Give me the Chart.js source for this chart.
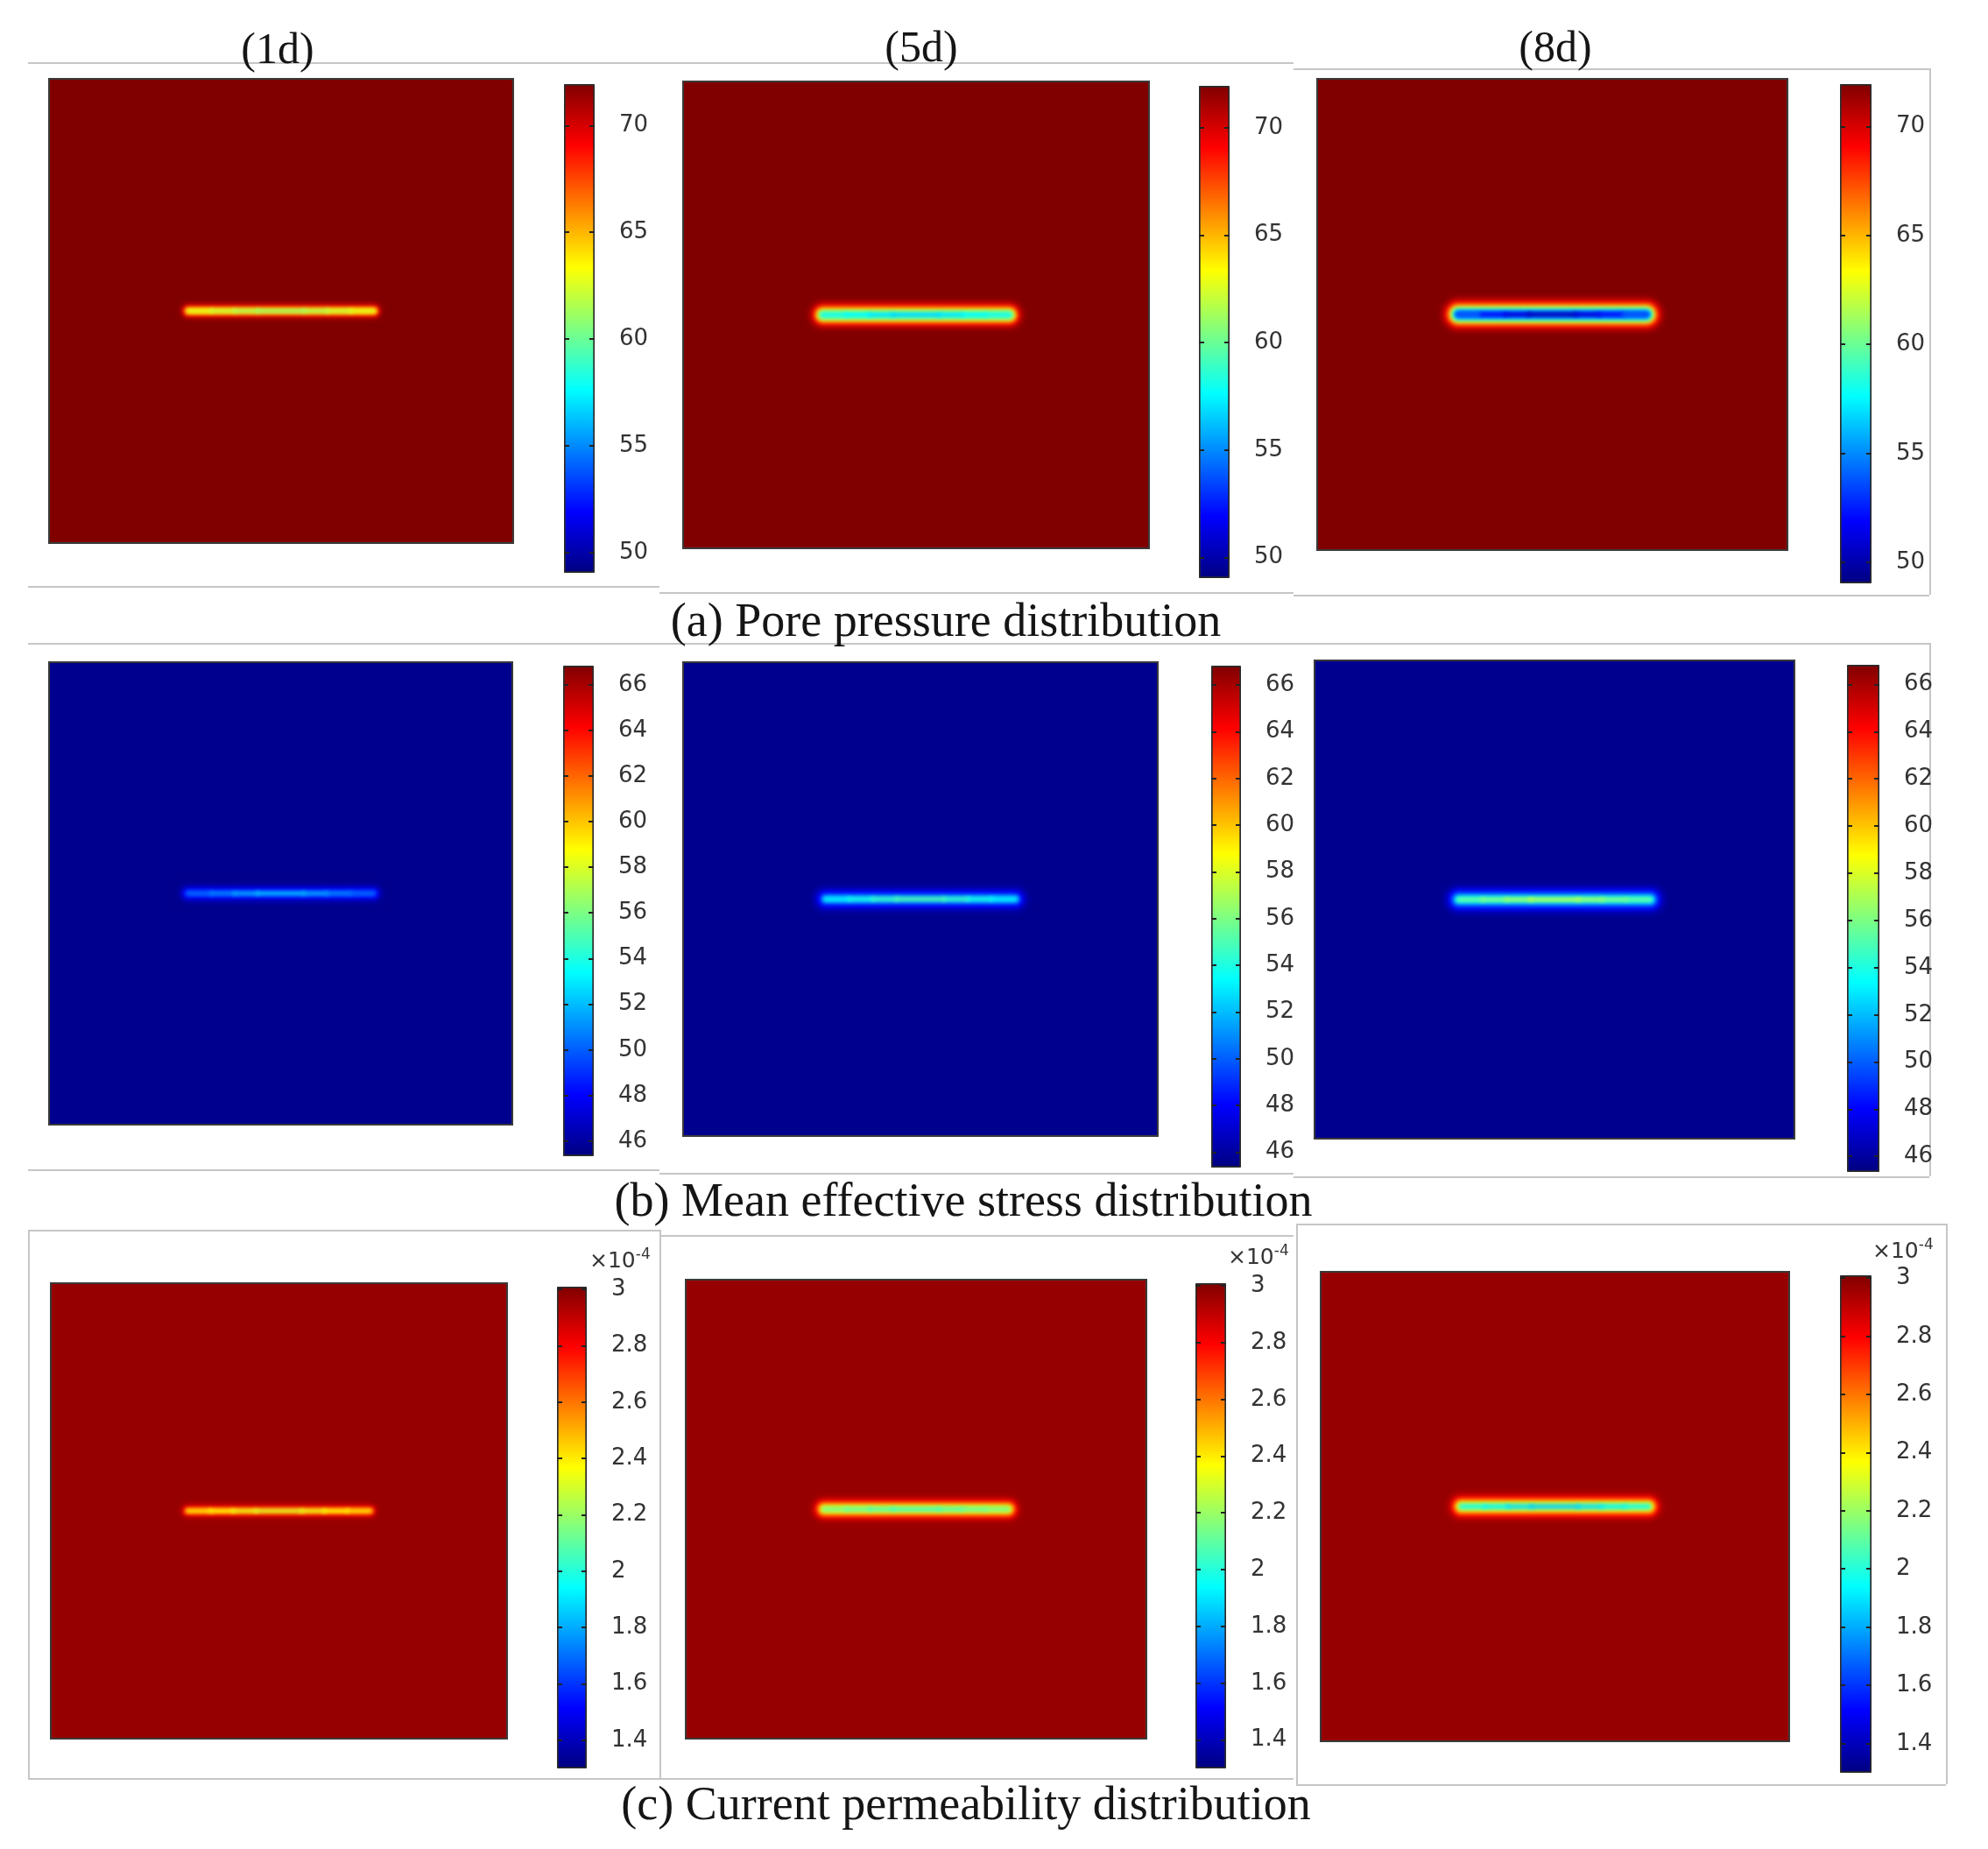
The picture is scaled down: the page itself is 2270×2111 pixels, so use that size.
<!DOCTYPE html>
<html>
<head>
<meta charset="utf-8">
<script src="https://cdn.jsdelivr.net/npm/chart.js@4.4.1/dist/chart.umd.min.js"></script>
<style>
  html, body { margin: 0; padding: 0; background: #fff; }
  #page { position: relative; width: 2270px; height: 2111px; overflow: hidden; background: #fff; }
  #page canvas { position: absolute; }
  .label { position: absolute; font-family: 'Liberation Serif', serif; color: #151515; white-space: nowrap; transform: translate(-50%, -50%); }
  .day { font-size: 50px; }
  .caption { font-size: 54px; }
  .exp { position: absolute; font-family: 'DejaVu Sans', sans-serif; font-size: 25px; color: #353535; white-space: nowrap; transform: translateY(-50%); }
  .exp sup { font-size: 17px; }
  .rule { position: absolute; background: #c6c6c6; }
</style>
</head>
<body>
<div id="page"></div>
<script>
// ---- data ----
const dayLabels = ['(1d)', '(5d)', '(8d)'];
const captions = [
  '(a) Pore pressure distribution',
  '(b) Mean effective stress distribution',
  '(c) Current permeability distribution',
];

// colour bar ranges and tick labels
const pressureRange = [49.05, 71.95];
const pressureTicks = [50, 55, 60, 65, 70];
const stressRange = [45.35, 66.84];
const stressTicks = [46, 48, 50, 52, 54, 56, 58, 60, 62, 64, 66];
const permRange = [1.30, 3.01];
const permTicks = [1.4, 1.6, 1.8, 2, 2.2, 2.4, 2.6, 2.8, 3];

// model domain and fracture (m)
const domain = [-50, 50];
const fracX = [-20, -15, -10, -5, 0, 5, 10, 15, 20];
const haloOffsets = [0.5, 1.0, 1.5, 2.0, 2.6, 3.3, 4.0];

// far field value for 1d / 5d / 8d
const pressureBg = [71.95, 71.95, 71.95];
const stressBg = [45.65, 45.65, 45.65];
const permBg = [2.97, 2.97, 2.97];

// value along the fracture (at fracX)
const pressureCore1d = [63, 62.5, 61.8, 61.2, 61, 61.2, 61.8, 62.5, 63];
const pressureCore5d = [58.5, 58, 57.3, 56.8, 56.5, 56.8, 57.3, 58, 58.5];
const pressureCore8d = [55, 53, 51.5, 50.5, 49.8, 50.5, 51.5, 53, 55];
const stressCore1d = [50, 50.5, 51.3, 52, 52.3, 52, 51.3, 50.5, 50];
const stressCore5d = [53, 53.5, 54.3, 55, 55.3, 55, 54.3, 53.5, 53];
const stressCore8d = [55.5, 56, 56.8, 57.5, 57.8, 57.5, 56.8, 56, 55.5];
const permCore1d = [2.42, 2.39, 2.35, 2.32, 2.3, 2.32, 2.35, 2.39, 2.42];
const permCore5d = [2.15, 2.12, 2.08, 2.05, 2.03, 2.05, 2.08, 2.12, 2.15];
const permCore8d = [2.0, 1.95, 1.9, 1.86, 1.84, 1.86, 1.9, 1.95, 2.0];

// value vs distance from the fracture (at haloOffsets)
const pressureHalo1d = [64.5, 68.5, 70.8, 71.7, 71.95, 71.95, 71.95];
const pressureHalo5d = [59, 62, 65.5, 68.5, 70.5, 71.5, 71.9];
const pressureHalo8d = [53.5, 57, 61.5, 65.5, 68.5, 70.5, 71.6];
const stressHalo1d = [49, 47.8, 46.6, 46, 45.7, 45.65, 45.65];
const stressHalo5d = [51.5, 49.5, 48, 47, 46.2, 45.8, 45.65];
const stressHalo8d = [53.5, 51, 49.2, 47.8, 46.7, 46, 45.7];
const permHalo1d = [2.62, 2.82, 2.93, 2.96, 2.97, 2.97, 2.97];
const permHalo5d = [2.28, 2.48, 2.68, 2.83, 2.92, 2.96, 2.97];
const permHalo8d = [2.18, 2.42, 2.62, 2.78, 2.9, 2.95, 2.97];

// ---- layout (px) ----
const mapBoxes = [
  [56, 90, 530, 530], [780, 93, 532, 533], [1504, 90, 537, 538],
  [56, 756, 529, 528], [780, 756, 542, 541], [1501, 754, 548, 546],
  [58, 1465, 521, 520], [783, 1461, 526, 524], [1508, 1452, 535, 536],
];
const barBoxes = [
  [644, 96, 35, 558], [1369, 98, 35, 562], [2101, 96, 36, 570],
  [643, 760, 35, 560], [1383, 760, 34, 573], [2109, 759, 37, 579],
  [636, 1469, 34, 550], [1365, 1465, 35, 554], [2101, 1456, 36, 568],
];
const dayPos = [[317, 55], [1052, 53], [1776, 53]];
const captionPos = [[1080, 708], [1100, 1370], [1103, 2059]];
const expPos = [[673, 1437], [1402, 1433], [2138, 1426]];
const rules = [
  [32, 71, 1477, 71], [1477, 78, 2203, 78], [32, 669, 753, 669], [753, 676, 1477, 676],
  [1477, 679, 2203, 679], [2203, 78, 2203, 679],
  [32, 734, 2203, 734], [32, 1335, 753, 1335], [753, 1339, 1477, 1339],
  [1477, 1343, 2203, 1343], [2203, 734, 2203, 1343],
  [32, 1404, 753, 1404], [32, 1404, 32, 2030], [32, 2030, 1477, 2030], [753, 1404, 753, 2030],
  [753, 1410, 1477, 1410], [1480, 1397, 2222, 1397], [1480, 1397, 1480, 2037],
  [1480, 2037, 2222, 2037], [2222, 1397, 2222, 2037],
];

const page = document.getElementById('page');
Chart.defaults.font.family = 'DejaVu Sans';

// ---- jet colour map ----
function jetT(t) {
  const c = v => Math.round(255 * Math.min(1, Math.max(0, v)));
  const r = c(1.5 - Math.abs(4 * t - 3));
  const g = c(1.5 - Math.abs(4 * t - 2));
  const b = c(1.5 - Math.abs(4 * t - 1));
  return `rgb(${r},${g},${b})`;
}
function jet(v, range) {
  return jetT((v - range[0]) / (range[1] - range[0]));
}

function makeCanvas(left, top, w, h) {
  const c = document.createElement('canvas');
  c.width = w;
  c.height = h;
  c.style.left = left + 'px';
  c.style.top = top + 'px';
  page.appendChild(c);
  return c;
}

// field background, soft glow and outline for a map
const fieldPlugin = {
  id: 'field',
  beforeDatasetsDraw(chart, args, opts) {
    const { ctx, chartArea: a } = chart;
    ctx.save();
    ctx.fillStyle = opts.color;
    ctx.fillRect(a.left, a.top, a.width, a.height);
    ctx.filter = 'blur(2px)';
  },
  afterDatasetsDraw(chart) {
    const { ctx, chartArea: a } = chart;
    ctx.restore();
    ctx.strokeStyle = '#3a3a3a';
    ctx.lineWidth = 2;
    ctx.strokeRect(a.left, a.top, a.width, a.height);
  },
};

// small tick marks on both edges of a colour bar
const barTicksPlugin = {
  id: 'barTicks',
  afterDatasetsDraw(chart) {
    const { ctx, chartArea: a, scales: { y } } = chart;
    ctx.save();
    ctx.strokeStyle = '#222';
    ctx.lineWidth = 2;
    y.ticks.forEach(t => {
      const py = Math.round(y.getPixelForValue(t.value));
      ctx.beginPath();
      ctx.moveTo(a.left, py);
      ctx.lineTo(a.left + 6, py);
      ctx.moveTo(a.right - 6, py);
      ctx.lineTo(a.right, py);
      ctx.stroke();
    });
    ctx.restore();
  },
};

function meters(chart, d) {
  const y = chart.scales.y;
  return Math.abs(y.getPixelForValue(d) - y.getPixelForValue(0));
}

function createMap(box, range, bg, core, halo) {
  const [l, t, w, h] = box;
  const canvas = makeCanvas(l - 2, t - 2, w + 4, h + 4);
  const ends = [{ x: fracX[0], y: 0 }, { x: fracX[fracX.length - 1], y: 0 }];
  const layers = halo.map((v, i) => ({
    data: ends,
    borderColor: jet(v, range),
    borderWidth: ctx => 2 * meters(ctx.chart, haloOffsets[i]) + 2,
  }));
  const crack = {
    data: fracX.map(x => ({ x, y: 0 })),
    borderWidth: 4.5,
    borderColor: jet(core[4], range),
    segment: {
      borderColor: s => jet((core[s.p0DataIndex] + core[s.p1DataIndex]) / 2, range),
    },
  };
  return new Chart(canvas, {
    type: 'line',
    data: { datasets: [crack, ...layers] },
    options: {
      responsive: false,
      animation: false,
      layout: { padding: 2 },
      elements: {
        point: { radius: 0 },
        line: { borderCapStyle: 'round', tension: 0 },
      },
      scales: {
        x: { type: 'linear', min: domain[0], max: domain[1], display: false },
        y: { type: 'linear', min: domain[0], max: domain[1], display: false },
      },
      plugins: {
        legend: { display: false },
        tooltip: { enabled: false },
        field: { color: jet(bg, range) },
      },
    },
    plugins: [fieldPlugin],
  });
}

function jetGradient(chart, range) {
  if (!chart.chartArea) return '#000';
  const y = chart.scales.y;
  const g = chart.ctx.createLinearGradient(0, y.getPixelForValue(range[0]), 0, y.getPixelForValue(range[1]));
  [0, 0.125, 0.375, 0.625, 0.875, 1].forEach(t => g.addColorStop(t, jetT(t)));
  return g;
}

function createColorBar(box, range, ticks) {
  const [l, t, w, h] = box;
  const canvas = makeCanvas(l - 2, t - 20, w + 92, h + 40);
  return new Chart(canvas, {
    type: 'bar',
    data: {
      labels: [''],
      datasets: [{
        data: [range],
        backgroundColor: ctx => jetGradient(ctx.chart, range),
        borderColor: '#2b2b2b',
        borderWidth: 2,
        borderSkipped: false,
        borderRadius: 2,
        barPercentage: 1,
        categoryPercentage: 1,
      }],
    },
    options: {
      responsive: false,
      animation: false,
      layout: { padding: { left: 2, right: 0, top: 20, bottom: 20 } },
      scales: {
        x: { display: false },
        y: {
          position: 'right',
          min: range[0],
          max: range[1],
          grid: { display: false },
          border: { display: false },
          afterBuildTicks: s => { s.ticks = ticks.map(v => ({ value: v })); },
          afterFit: s => {
            s.width = 90;
            s.paddingTop = 0;
            s.paddingBottom = 0;
          },
          ticks: {
            padding: 20,
            color: '#333',
            font: { family: 'DejaVu Sans', size: 26 },
            callback: v => String(v),
          },
        },
      },
      plugins: { legend: { display: false }, tooltip: { enabled: false } },
    },
    plugins: [barTicksPlugin],
  });
}

// ---- build ----
const rows = [
  { range: pressureRange, ticks: pressureTicks, bg: pressureBg,
    core: [pressureCore1d, pressureCore5d, pressureCore8d], halo: [pressureHalo1d, pressureHalo5d, pressureHalo8d] },
  { range: stressRange, ticks: stressTicks, bg: stressBg,
    core: [stressCore1d, stressCore5d, stressCore8d], halo: [stressHalo1d, stressHalo5d, stressHalo8d] },
  { range: permRange, ticks: permTicks, bg: permBg,
    core: [permCore1d, permCore5d, permCore8d], halo: [permHalo1d, permHalo5d, permHalo8d] },
];

rules.forEach(([x1, y1, x2, y2]) => {
  const d = document.createElement('div');
  d.className = 'rule';
  d.style.left = x1 + 'px';
  d.style.top = y1 + 'px';
  d.style.width = Math.max(2, x2 - x1) + 'px';
  d.style.height = Math.max(2, y2 - y1) + 'px';
  page.appendChild(d);
});

rows.forEach((row, r) => {
  for (let c = 0; c < 3; c++) {
    const i = r * 3 + c;
    createMap(mapBoxes[i], row.range, row.bg[c], row.core[c], row.halo[c]);
    createColorBar(barBoxes[i], row.range, row.ticks);
  }
});

function addText(cls, text, [x, y]) {
  const d = document.createElement('div');
  d.className = cls;
  d.textContent = text;
  d.style.left = x + 'px';
  d.style.top = y + 'px';
  page.appendChild(d);
  return d;
}
dayLabels.forEach((s, i) => addText('label day', s, dayPos[i]));
captions.forEach((s, i) => addText('label caption', s, captionPos[i]));
expPos.forEach(p => {
  const d = addText('exp', '×10', p);
  const sup = document.createElement('sup');
  sup.textContent = '-4';
  d.appendChild(sup);
});
</script>
</body>
</html>
